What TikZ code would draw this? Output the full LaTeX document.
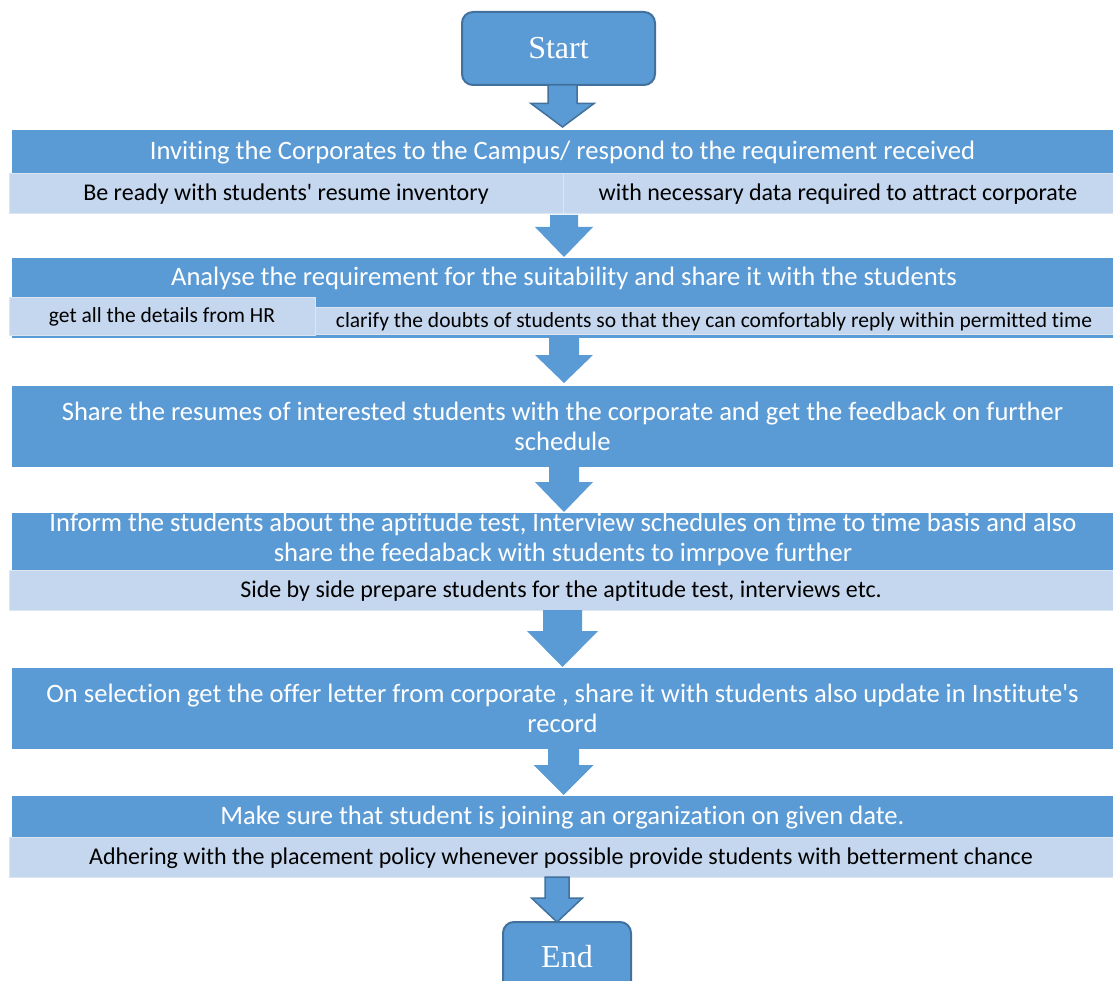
\documentclass[tikz,border=0pt]{standalone}
\usepackage{fontspec}
\setmainfont{Carlito}[Ligatures={TeXOff,CommonOff}]
\newfontfamily\termfont{Liberation Serif}
\usetikzlibrary{calc}
\definecolor{darkblue}{HTML}{5B9BD5}
\definecolor{lightblue}{HTML}{C5D7EE}
\definecolor{edgeblue}{HTML}{41719C}
\definecolor{lightedge}{HTML}{DCE6F3}
% #1 style, #2 x centre, #3 from point, #4 tip point, #5 shaft half width, #6 head half width, #7 head length
\newcommand\blockarr[7]{%
  \path[#1] let \p1=#3, \p2=#4 in
    (#2pt-#5pt,\y1) -- (#2pt+#5pt,\y1) -- (#2pt+#5pt,\y2+#7pt) -- (#2pt+#6pt,\y2+#7pt)
    -- (#2pt,\y2) -- (#2pt-#6pt,\y2+#7pt) -- (#2pt-#5pt,\y2+#7pt) -- cycle;}
\begin{document}
\begin{tikzpicture}[x=1pt,y=-1pt,
  every node/.style={inner sep=0pt,outer sep=0pt},
  titlerow/.style={text height=21pt,text depth=5.5pt},
  term/.style={draw=edgeblue,line width=2pt,fill=darkblue,rounded corners=11pt,text=white,
    font=\termfont\fontsize{32}{36}\selectfont},
  bar/.style={fill=darkblue,draw=none,text=white,align=center,minimum width=1101pt,
    font=\fontsize{26.6}{30}\selectfont},
  bartext/.style={text=white,align=center,font=\fontsize{26.6}{30}\selectfont},
  sub/.style={fill=lightblue,draw=lightedge,line width=0.8pt,text=black,align=center,
    font=\fontsize{24}{28}\selectfont,text height=19.5pt,text depth=5pt},
  subsmall/.style={sub,font=\fontsize{21.5}{25}\selectfont,text height=17.5pt,text depth=4.5pt},
  arrplain/.style={fill=darkblue},
  arrlined/.style={fill=darkblue,draw=edgeblue,line width=1.5pt,line join=miter}
]
\useasboundingbox (0,0) rectangle (1113,981);
\clip (0,0) rectangle (1113,981);

% Start
\node[term,minimum width=193pt,minimum height=73pt] (start) at (558.5,48.5) {Start};

% Step 1
\node[bar,titlerow,minimum height=43pt] (s1) at (562.5,151.5) {Inviting the Corporates to the Campus/ respond to the requirement received};
\node[sub,minimum width=554pt,minimum height=40pt] (s1a) at (286,193) {Be ready with students' resume inventory};
\node[sub,minimum width=550pt,minimum height=40pt] (s1b) at (838,193) {with necessary data required to attract corporate};

% Step 2
\node[bar,minimum height=80pt] (s2) at (562.5,298) {};
\node[bartext,titlerow] (s2t) at (564,278) {Analyse the requirement for the suitability and share it with the students};
\node[subsmall,minimum width=798pt,minimum height=27pt] (s2b) at (714,320.5) {clarify the doubts of students so that they can comfortably reply within permitted time};
\node[subsmall,minimum width=306pt,minimum height=38pt] (s2a) at (162,316) {get all the details from HR};

% Step 3
\node[bar,minimum height=81pt] (s3) at (562.5,426.5) {Share the resumes of interested students with the corporate and get the feedback on further\\schedule};

% Step 4
\node[bar,minimum height=57pt] (s4) at (562.5,541.5) {};
\node[bartext] (s4t) at (563,539) {Inform the students about the aptitude test, Interview schedules on time to time basis and also\\share the feedaback with students to imrpove further};
\node[sub,minimum width=1104pt,minimum height=40pt] (s4a) at (561,590) {Side by side prepare students for the aptitude test, interviews etc.};

% Step 5
\node[bar,minimum height=81pt] (s5) at (562.5,708.5) {On selection get the offer letter from corporate , share it with students also update in Institute's\\record};

% Step 6
\node[bar,titlerow,minimum height=41pt] (s6) at (562.5,816.5) {Make sure that student is joining an organization on given date.};
\node[sub,minimum width=1104pt,minimum height=40pt] (s6a) at (561,857) {Adhering with the placement policy whenever possible provide students with betterment chance};

% End
\node[term,minimum width=128pt,minimum height=70pt] (end) at (567,957) {End};

% Block arrows
\blockarr{arrlined}{562.5}{(start.south)}{($(s1.north)+(0,-3)$)}{14.5}{31.5}{23.5}
\blockarr{arrplain}{564}{($(s1a.south)+(0,2)$)}{($(s2.north)+(0,-1)$)}{14}{29}{30}
\blockarr{arrplain}{564}{(s2.south)}{($(s3.north)+(0,-3)$)}{15}{29}{28}
\blockarr{arrplain}{564}{(s3.south)}{($(s4.north)+(0,-1)$)}{15}{29}{30}
\blockarr{arrplain}{562.5}{(s4a.south)}{($(s5.north)+(0,-1)$)}{19.5}{35.5}{36}
\blockarr{arrplain}{563.5}{(s5.south)}{($(s6.north)+(0,-1)$)}{15.5}{30}{30}
\blockarr{arrlined}{557}{(s6a.south)}{(end.north)}{12}{25.5}{24}
\end{tikzpicture}
\end{document}
